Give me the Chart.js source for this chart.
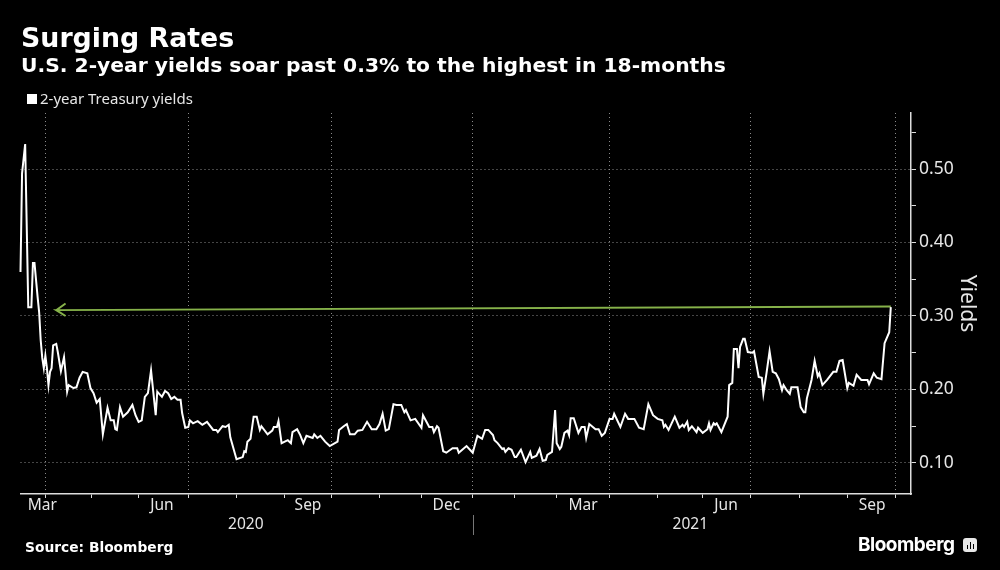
<!DOCTYPE html>
<html>
<head>
  <title>Surging Rates</title>
  <script src="https://cdn.jsdelivr.net/npm/chart.js"></script>
  <style>
    body { margin: 0; background: #000; }
    #page { position: relative; width: 1000px; height: 570px; overflow: hidden; background: #000; color: #fff; }
    #page div { position: absolute; white-space: nowrap; }
    canvas { position: absolute; left: 0; top: 0; }
    .title { left: 21px; top: 22px; font: bold 26.8px "DejaVu Sans"; }
    .subtitle { left: 21px; top: 53px; font: bold 20.3px "DejaVu Sans"; }
    .legend { left: 40px; top: 88px; font: 15px "Noto Sans"; color: #e6e6e6; }
    .legend-box { left: 27px; top: 94px; width: 10px; height: 10px; background: #fff; }
    .source { left: 25px; top: 539px; font: bold 13.8px "DejaVu Sans"; }
    .brand { left: 858px; top: 533px; font: bold 19px Inter; letter-spacing: -0.5px; }
    .icon { left: 963px; top: 538px; width: 14px; height: 14px; background: #e8e8e8; border-radius: 3px; }
    .icon div { background: #000; width: 1px; bottom: 3px; }
  </style>
</head>
<body>
<div id="page">
  <canvas id="chart" width="1000" height="570"></canvas>
  <div class="title">Surging Rates</div>
  <div class="subtitle">U.S. 2-year yields soar past 0.3% to the highest in 18-months</div>
  <div class="legend-box"></div>
  <div class="legend">2-year Treasury yields</div>
  <div class="source">Source: Bloomberg</div>
  <div class="brand">Bloomberg</div>
  <div class="icon"><div style="left:4px;height:4px"></div><div style="left:7px;height:7px"></div><div style="left:10px;height:5px"></div></div>
</div>
<script>
  // days counted from 2020-03-16
  var days = [0,1,3,5,7,8,9,11,12,13,14,15,16,17,18,19,20,21,23,24,26,28,29,30,31,34,36,38,40,43,45,47,49,51,53,56,58,60,61,62,64,66,69,72,74,76,78,80,82,84,87,88,91,93,95,97,99,101,103,104,106,108,109,111,114,
    117,120,124,126,127,130,132,134,135,139,143,144,145,146,148,150,152,154,155,159,162,163,165,166,168,172,174,175,178,180,182,184,188,189,191,193,196,199,204,205,208,210,212,215,217,220,223,226,229,231,233,235,237,240,242,245,247,248,251,254,258,259,263,265,266,268,269,272,274,278,281,282,287,291,
    294,297,299,301,304,305,307,310,311,312,314,316,318,319,322,325,328,329,332,334,336,338,339,342,344,345,347,348,350,352,353,354,356,359,361,363,364,366,370,372,374,376,379,381,382,386,389,391,395,398,401,404,407,410,413,414,415,417,421,424,426,427,429,430,432,435,436,439,442,443,444,446,447,448,451,
    455,456,458,459,461,462,463,465,466,468,471,472,475,477,478,480,482,484,486,488,490,491,493,495,496,500,502,504,505,506,509,511,513,514,516,519,523,525,527,529,532,533,536,538,541,545,546,549,551,554,556,559,560];
  var yields = [.360,.494,.534,.312,.312,.372,.372,.326,.305,.267,.243,.229,.246,.229,.206,.224,.229,.260,.262,.251,.225,.244,.222,.197,.206,.202,.203,.216,.224,.222,.202,.195,.182,.187,.139,.175,.158,.158,.146,.145,.176,.163,.169,.179,.165,.156,.158,.190,.195,.226,.165,.197,.190,.198,.195,.187,.190,.186,.186,.168,.148,.149,.158,.154,.157,
    .152,.156,.145,.145,.142,.150,.149,.152,.135,.105,.108,.116,.115,.129,.133,.163,.163,.145,.150,.139,.144,.149,.149,.157,.127,.131,.127,.142,.146,.138,.127,.137,.134,.139,.134,.137,.129,.123,.129,.145,.150,.153,.139,.139,.144,.145,.156,.146,.146,.153,.167,.144,.146,.180,.179,.179,.169,.172,.158,.160,.148,.165,.149,.149,.142,.150,.148,.116,.114,.120,.120,.114,.123,.114,
    .137,.133,.145,.145,.138,.131,.127,.119,.120,.115,.120,.118,.108,.108,.118,.101,.115,.107,.110,.119,.103,.104,.111,.115,.172,.127,.119,.122,.141,.144,.138,.161,.161,.141,.149,.149,.134,.153,.146,.146,.137,.141,.160,.160,.167,.149,.167,.160,.160,.148,.146,.180,.165,.160,.158,.149,.152,.145,.163,.148,.152,.149,.156,.145,.150,.142,.148,.141,.146,.154,.145,.154,.152,.154,.142,
    .163,.206,.209,.255,.255,.229,.258,.269,.269,.251,.250,.252,.217,.216,.194,.222,.252,.224,.222,.214,.199,.206,.199,.194,.203,.203,.176,.169,.169,.188,.213,.239,.218,.222,.206,.213,.224,.224,.239,.240,.202,.209,.205,.220,.213,.213,.207,.222,.216,.214,.263,.278,.312];

  // green arrow: head first, then the long shaft
  var arrowDays = [29,23,29,23,560];
  var arrowYields = [.317,.308,.300,.308,.313];

  var monthTickDays = [16,46,76,108,139,170,200,231,258,291,318,345,379,410,439,470,501,532,563];
  var gridDays = [16,108,200,291,379,470,563];
  var monthLabels = ['Mar','Jun','Sep','Dec','Mar','Jun','Sep'];
  var monthLabelDays = [14,91,185,274,362,454,548];
  var yearLabels = ['2020','2021'];
  var yearLabelDays = [145,431];
  var yearBreakDay = 291;
  var yTicks = [.10,.15,.20,.25,.30,.35,.40,.45,.50,.55];
  var yLabelled = [.10,.20,.30,.40,.50];

  var xMin = 0, xMax = 573, yMin = 0.0578, yMax = 0.5762;

  function setTicks(list) {
    return function(scale) { scale.ticks = list.map(function(v) { return { value: v }; }); };
  }

  // the little divider between the two years
  var yearBreak = {
    id: 'yearBreak',
    afterDraw: function(chart) {
      var x = chart.scales.x.getPixelForValue(yearBreakDay);
      var ctx = chart.ctx;
      ctx.save();
      ctx.strokeStyle = '#777';
      ctx.beginPath();
      ctx.moveTo(Math.round(x) + 0.5, 515);
      ctx.lineTo(Math.round(x) + 0.5, 535);
      ctx.stroke();
      ctx.restore();
    }
  };

  function labelAxis(list, names, weight, height) {
    return {
      type: 'linear', position: 'bottom', min: xMin, max: xMax, weight: weight,
      grid: { display: false, drawTicks: false },
      border: { display: false },
      afterBuildTicks: setTicks(list),
      afterFit: function(scale) { scale.height = height; },
      ticks: {
        color: '#e6e6e6', font: { family: 'Noto Sans', size: 15.5 }, padding: 0, maxRotation: 0, autoSkip: false,
        callback: function(v) { return names[list.indexOf(v)]; }
      }
    };
  }

  new Chart(document.getElementById('chart'), {
    type: 'line',
    data: {
      datasets: [{
        label: '2-year Treasury yields',
        data: days.map(function(d, i) { return { x: d, y: yields[i] }; }),
        borderColor: '#fff', backgroundColor: '#fff', borderWidth: 2, pointRadius: 0, tension: 0, clip: 4
      }, {
        label: 'arrow',
        data: arrowDays.map(function(d, i) { return { x: d, y: arrowYields[i] }; }),
        borderColor: '#86b24a', borderWidth: 2, pointRadius: 0, tension: 0
      }]
    },
    options: {
      responsive: false,
      animation: false,
      layout: { padding: { left: 20.5, right: 20, top: 113, bottom: 33 } },
      plugins: {
        tooltip: { enabled: false },
        legend: { display: false }
      },
      scales: {
        x: {
          type: 'linear', position: 'bottom', min: xMin, max: xMax, weight: 1,
          afterBuildTicks: setTicks(monthTickDays),
          afterFit: function(scale) { scale.height = 2; },
          border: { color: '#ddd', width: 1.5, dash: [1, 3] },
          grid: {
            tickLength: 4, tickColor: '#ddd', tickBorderDash: [], tickWidth: 1,
            color: function(c) { return gridDays.indexOf(c.tick.value) >= 0 ? '#8a8a8a' : 'transparent'; }
          },
          ticks: { display: false, autoSkip: false }
        },
        xMonths: labelAxis(monthLabelDays, monthLabels, 2, 19),
        xYears: labelAxis(yearLabelDays, yearLabels, 3, 22),
        y: {
          position: 'right', min: yMin, max: yMax,
          afterBuildTicks: setTicks(yTicks),
          afterFit: function(scale) { scale.width = 69; },
          border: { color: '#ddd', width: 1.5, dash: [1, 3] },
          grid: {
            tickLength: 5, tickColor: '#ddd', tickBorderDash: [], tickWidth: 1,
            color: function(c) { return yLabelled.indexOf(c.tick.value) >= 0 ? '#8a8a8a' : 'transparent'; }
          },
          ticks: {
            color: '#e6e6e6', font: { family: 'Noto Sans', size: 17.5 }, padding: 3, autoSkip: false,
            callback: function(v) { return yLabelled.indexOf(v) >= 0 ? v.toFixed(2) : ''; }
          },
          title: { display: true, text: 'Yields', color: '#e6e6e6', font: { family: 'Noto Sans', size: 21 }, padding: 0 }
        }
      }
    },
    plugins: [yearBreak]
  });
</script>
</body>
</html>
